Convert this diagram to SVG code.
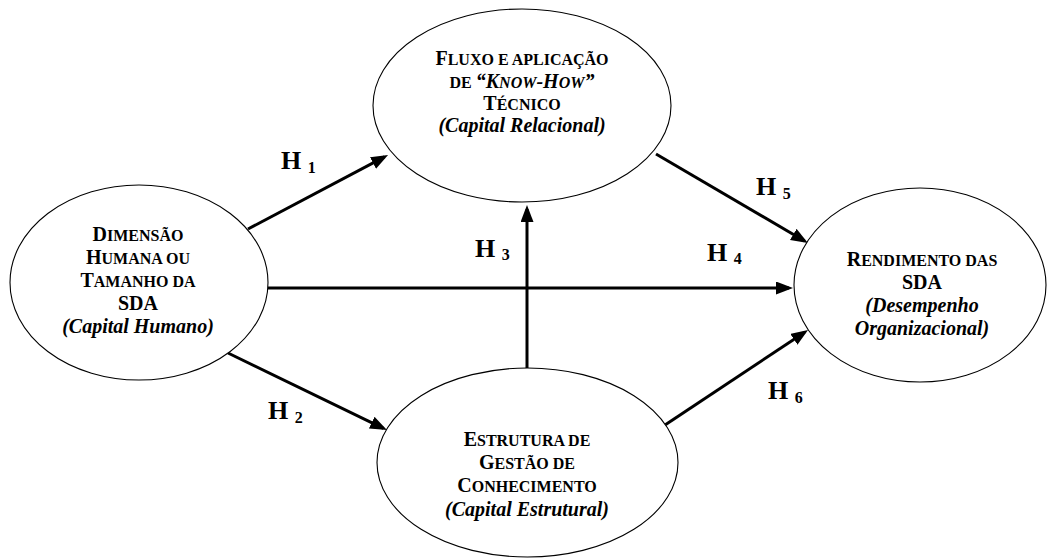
<svg xmlns="http://www.w3.org/2000/svg" width="1047" height="558" viewBox="0 0 1047 558">
<style>
  .node { fill: #fff; stroke: #000; stroke-width: 1.1; }
  .lbl { font-family: "Liberation Serif", "Times New Roman", "DejaVu Serif", serif; font-weight: bold; font-size: 20px; fill: #000; text-anchor: middle; }
  .sc { font-size: 16px; }
  .it { font-style: italic; }
  .conn { fill: none; stroke: #000; stroke-width: 3; marker-end: url(#arrow); }
  .h { font-family: "Liberation Serif", "Times New Roman", "DejaVu Serif", serif; font-weight: bold; font-size: 26px; fill: #000; }
  .sub { font-size: 16px; }
</style>
<defs>
  <marker id="arrow" markerUnits="userSpaceOnUse" markerWidth="20" markerHeight="14" refX="13" refY="6.5" orient="auto">
    <path d="M0,0 L17,6.5 L0,13 z" fill="#000"/>
  </marker>
</defs>
<rect width="1047" height="558" fill="#fff"/>

<g id="connectors">
  <path class="conn" d="M248,229 L384.5,156.9"/>
  <path class="conn" d="M228,353 L383.4,428.3"/>
  <path class="conn" d="M527,369 L527,209"/>
  <path class="conn" d="M268,288 L789,288"/>
  <path class="conn" d="M656,154 L804.5,241"/>
  <path class="conn" d="M665,425 L804.7,332.2"/>
</g>

<g id="node-dimensao">
  <ellipse class="node" cx="139" cy="282.5" rx="129" ry="97.5"/>
  <text class="lbl" x="138" y="241">D<tspan class="sc">IMENSÃO</tspan></text>
  <text class="lbl" x="138" y="264">H<tspan class="sc">UMANA OU</tspan></text>
  <text class="lbl" x="138" y="287">T<tspan class="sc">AMANHO DA</tspan></text>
  <text class="lbl" x="138" y="310">SDA</text>
  <text class="lbl it" x="138" y="333">(Capital Humano)</text>
</g>

<g id="node-fluxo">
  <ellipse class="node" cx="522" cy="105.5" rx="149" ry="96.5"/>
  <text class="lbl" x="522" y="65">F<tspan class="sc">LUXO E APLICAÇÃO</tspan></text>
  <text class="lbl" x="522" y="88"><tspan class="sc">DE </tspan><tspan class="it">“K<tspan class="sc">NOW</tspan>-H<tspan class="sc">OW</tspan>”</tspan></text>
  <text class="lbl" x="522" y="110">T<tspan class="sc">ÉCNICO</tspan></text>
  <text class="lbl it" x="522" y="132">(Capital Relacional)</text>
</g>

<g id="node-rendimento">
  <ellipse class="node" cx="920" cy="285" rx="126" ry="97"/>
  <text class="lbl" x="922" y="266">R<tspan class="sc">ENDIMENTO DAS</tspan></text>
  <text class="lbl" x="922" y="289">SDA</text>
  <text class="lbl it" x="922" y="312">(Desempenho</text>
  <text class="lbl it" x="922" y="335">Organizacional)</text>
</g>

<g id="node-estrutura">
  <ellipse class="node" cx="527.5" cy="462.5" rx="150.5" ry="94.5"/>
  <text class="lbl" x="527" y="446">E<tspan class="sc">STRUTURA DE</tspan></text>
  <text class="lbl" x="527" y="469">G<tspan class="sc">ESTÃO DE</tspan></text>
  <text class="lbl" x="527" y="492">C<tspan class="sc">ONHECIMENTO</tspan></text>
  <text class="lbl it" x="527" y="516">(Capital Estrutural)</text>
</g>

<g id="labels">
  <text class="h" x="281" y="169">H <tspan class="sub" dy="4">1</tspan></text>
  <text class="h" x="268" y="419">H <tspan class="sub" dy="4">2</tspan></text>
  <text class="h" x="475" y="257">H <tspan class="sub" dy="3">3</tspan></text>
  <text class="h" x="707" y="261">H <tspan class="sub" dy="3">4</tspan></text>
  <text class="h" x="756" y="195">H <tspan class="sub" dy="4">5</tspan></text>
  <text class="h" x="768" y="399">H <tspan class="sub" dy="4">6</tspan></text>
</g>
</svg>
